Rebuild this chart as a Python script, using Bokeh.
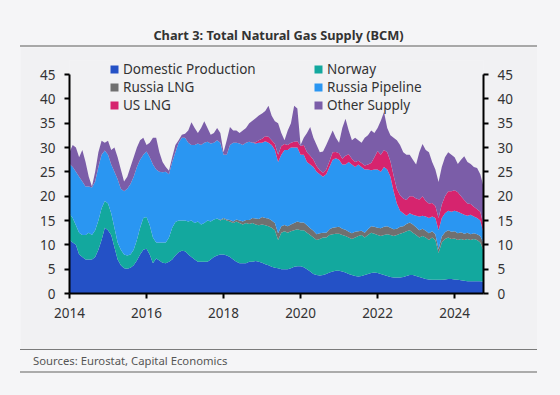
import pandas as pd
from bokeh.plotting import figure
from bokeh.models import (ColumnDataSource, Range1d, LinearAxis, FixedTicker,
                          Legend, LegendItem, Div, Spacer)
from bokeh.layouts import row, column
from bokeh.embed import file_html
from bokeh.resources import INLINE

# ---------------- data (monthly, BCM), Jan 2014 .. Oct 2024 ----------------
domestic = [
    11, 10.5, 10, 8, 7.5, 7, 7, 7, 7.5, 9, 11, 13.5,            # 2014
    13, 12, 9.5, 7, 5.8, 5.2, 5.1, 5.3, 5.8, 6.8, 8, 9,         # 2015
    9.2, 8, 6.2, 7.2, 6.8, 6.3, 6.2, 6.5, 7, 7.8, 8.5, 8.8,     # 2016
    8.7, 8, 7.5, 7, 6.5, 6.5, 6.5, 6.5, 7, 7.5, 7.8, 8,         # 2017
    8, 7.8, 7.5, 7, 6.5, 6.2, 6.2, 6.2, 6.5, 6.5, 6.7, 6.5,     # 2018
    6.3, 6, 5.8, 5.5, 5.3, 5.2, 5, 5, 5, 5.2, 5.5, 5.6,         # 2019
    5.6, 5.4, 5, 4.5, 4, 3.8, 3.7, 3.8, 4, 4.3, 4.5, 4.7,       # 2020
    4.7, 4.5, 4.3, 4, 3.8, 3.6, 3.5, 3.6, 3.8, 4, 4.2, 4.3,     # 2021
    4.2, 4, 3.8, 3.6, 3.4, 3.3, 3.3, 3.3, 3.4, 3.6, 3.8, 3.8,   # 2022
    3.6, 3.4, 3.2, 3, 2.9, 2.8, 2.8, 2.8, 2.8, 2.9, 3, 3,       # 2023
    2.9, 2.8, 2.7, 2.6, 2.5, 2.5, 2.5, 2.5, 2.5, 2.4,           # 2024
]
norway = [
    5.4, 5.0, 4.0, 4.5, 4.5, 5.0, 5.5, 5.0, 5.5, 6.0, 6.5, 5.5,
    5.5, 4.5, 4.0, 3.5, 3.2, 2.8, 2.7, 2.7, 3.2, 4.2, 5.5, 6.5,
    6.5, 6.0, 5.3, 3.3, 3.7, 4.2, 4.3, 5.0, 6.5, 6.9, 6.5, 6.2,
    6.3, 6.8, 7.5, 7.5, 8.3, 7.7, 8.0, 8.5, 7.8, 7.7, 7.6, 7.0,
    7.3, 7.2, 7.3, 7.5, 8.3, 8.3, 8.0, 8.3, 7.8, 8.0, 7.5, 7.5,
    7.9, 8.0, 8.0, 8.0, 7.7, 5.8, 7.5, 7.8, 7.5, 7.6, 7.5, 7.6,
    7.4, 7.6, 7.5, 7.5, 7.5, 7.2, 7.5, 7.7, 7.5, 7.7, 7.7, 7.6,
    7.6, 7.5, 7.5, 7.5, 7.4, 7.9, 8.3, 8.4, 7.7, 8.0, 8.3, 8.0,
    7.8, 7.8, 8.2, 8.6, 8.6, 8.5, 8.7, 9.0, 9.1, 9.2, 9.2, 8.7,
    8.4, 8.1, 8.6, 8.5, 8.1, 8.7, 8.2, 5.5, 7.7, 8.3, 8.5, 8.2,
    8.4, 8.2, 8.5, 8.4, 8.7, 8.5, 8.7, 8.5, 8.0, 6.4,
]
russia_lng = [
    0, 0, 0, 0, 0, 0, 0, 0, 0, 0, 0, 0,
    0, 0, 0, 0, 0, 0, 0, 0, 0, 0, 0, 0,
    0, 0, 0, 0, 0, 0, 0, 0, 0, 0, 0, 0,
    0, 0, 0, 0, 0, 0, 0, 0, 0, 0, 0, 0.1,
    0.2, 0.2, 0.3, 0.3, 0.4, 0.5, 0.6, 0.6, 0.8, 1.0, 1.2, 1.3,
    1.5, 1.5, 1.6, 1.5, 1.5, 1.4, 1.3, 1.3, 1.3, 1.4, 1.5, 1.6,
    1.6, 1.6, 1.5, 1.4, 1.4, 1.2, 1.2, 1.0, 1.0, 1.2, 1.3, 1.3,
    1.4, 1.3, 1.3, 1.2, 1.2, 1.2, 1.0, 0.9, 1.0, 1.2, 1.3, 1.4,
    1.5, 1.6, 1.7, 1.6, 1.5, 1.4, 1.3, 1.4, 1.3, 1.5, 1.6, 1.7,
    1.6, 1.5, 1.5, 1.4, 1.4, 1.3, 1.2, 0.8, 1.2, 1.4, 1.5, 1.5,
    1.5, 1.4, 1.4, 1.3, 1.3, 1.2, 1.2, 1.2, 1.3, 1.6,
]
russia_pipeline = [
    10.2, 10.5, 11.0, 11.5, 11.0, 10.0, 9.5, 9.8, 10.0, 11.0, 11.0, 10.4,
    10.0, 10.0, 11.5, 13.0, 12.5, 13.0, 13.7, 14.5, 15.0, 15.0, 14.0, 13.0,
    13.5, 14.0, 15.0, 15.0, 14.5, 14.4, 14.5, 13.0, 13.5, 14.3, 16.0, 17.0,
    17.0, 16.2, 15.5, 16.0, 16.0, 16.3, 16.5, 16.2, 16.0, 15.8, 16.1, 15.9,
    13.0, 13.3, 15.4, 16.2, 15.8, 15.8, 15.7, 15.9, 16.1, 15.5, 15.4, 15.7,
    15.3, 15.8, 15.6, 15.5, 15.0, 14.6, 14.7, 15.4, 15.7, 15.8, 15.5, 15.2,
    13.9, 13.9, 13.0, 13.1, 13.1, 12.8, 12.1, 11.5, 12.0, 12.8, 14.0, 14.2,
    13.8, 13.2, 13.4, 14.3, 14.1, 13.3, 13.7, 13.1, 13.0, 12.3, 11.5, 11.8,
    12.0, 11.6, 12.3, 11.7, 10.5, 7.8, 5.2, 3.3, 2.7, 1.7, 1.9, 2.0,
    2.4, 2.8, 2.7, 2.9, 3.1, 3.0, 3.3, 3.9, 3.8, 3.9, 4.0, 4.1,
    4.2, 4.4, 3.9, 3.9, 3.5, 4.0, 3.4, 3.3, 3.2, 2.1,
]
us_lng = [
    0, 0, 0, 0, 0, 0, 0, 0, 0, 0, 0, 0,
    0, 0, 0, 0, 0, 0, 0, 0, 0, 0, 0, 0,
    0, 0, 0, 0, 0, 0, 0, 0, 0, 0, 0, 0,
    0, 0, 0, 0, 0, 0, 0, 0, 0, 0, 0, 0,
    0, 0, 0, 0, 0, 0, 0, 0, 0, 0, 0.3, 0.5,
    0.8, 1.0, 1.2, 1.0, 1.2, 1.5, 1.8, 1.2, 1.0, 1.0, 1.2, 1.3,
    1.8, 2.0, 2.0, 1.8, 1.5, 1.2, 0.8, 0.8, 1.0, 1.2, 1.5, 1.3,
    1.3, 1.2, 1.8, 1.6, 1.2, 1.0, 0.8, 0.8, 0.8, 1.0, 1.5, 2.5,
    3.8, 3.5, 3.5, 3.5, 3.2, 3.2, 3.0, 3.2, 3.0, 3.2, 3.5, 3.8,
    3.5, 3.5, 4.0, 3.2, 3.0, 2.8, 2.5, 2.5, 2.8, 3.5, 4.0, 4.2,
    4.2, 4.0, 3.5, 3.0, 2.5, 2.2, 2.0, 1.8, 1.8, 1.5,
]
other_supply = [
    2.4, 4.5, 5.0, 4.0, 6.5, 5.0, 2.0, 0.2, 2.0, 3.0, 2.9, 1.6,
    2.9, 3.0, 5.0, 4.5, 4.0, 2.0, 2.5, 3.5, 4.0, 4.0, 4.0, 3.5,
    1.3, 3.0, 5.5, 6.5, 4.0, 2.1, 1.0, 0.7, 1.0, 1.5, 0.5, 0.6,
    0.8, 2.5, 4.7, 3.5, 2.2, 3.5, 4.4, 2.8, 1.8, 2.0, 2.5, 2.0,
    0.5, 3.0, 3.7, 2.5, 2.5, 2.2, 3.0, 3.0, 3.8, 4.5, 4.9, 5.1,
    5.2, 5.2, 6.4, 5.0, 4.7, 6.5, 2.7, 0.8, 3.0, 4.0, 7.4, 6.7,
    0.2, 1.5, 4.0, 5.9, 4.5, 4.3, 3.7, 4.4, 5.0, 4.8, 4.5, 2.9,
    2.2, 6.3, 7.6, 4.9, 3.8, 5.0, 4.2, 4.2, 5.7, 6.0, 6.7, 5.0,
    4.7, 7.0, 7.8, 5.0, 5.3, 7.8, 10.0, 10.3, 9.5, 9.3, 8.5, 7.5,
    7.0, 9.7, 10.7, 10.5, 10.5, 8.4, 7.5, 7.4, 7.7, 8.0, 8.0, 7.5,
    6.8, 5.8, 7.5, 9.0, 8.5, 8.2, 8.2, 8.5, 7.7, 8.0,
]

series_names = ["Domestic Production", "Norway", "Russia LNG",
                "Russia Pipeline", "US LNG", "Other Supply"]
x_ticks = [2014, 2016, 2018, 2020, 2022, 2024]
y_ticks = [0, 5, 10, 15, 20, 25, 30, 35, 40, 45]
title_text = "Chart 3: Total Natural Gas Supply (BCM)"
source_text = "Sources: Eurostat, Capital Economics"

# ---------------- styling ----------------
COLORS = ["#2451C6", "#13A89E", "#707070", "#2A96F2", "#D6246E", "#7B5DA8"]
PAGE = "#F5F5F7"
PANEL = "#F1F1F3"
TXT = "#333333"
FONT = "Noto Sans"

months = pd.date_range("2014-01-01", periods=len(domestic), freq="MS")
xdec = [d.year + (d.month - 1) / 12 for d in months]

keys = ["dom", "nor", "rlng", "rpipe", "uslng", "oth"]
src = ColumnDataSource(dict(x=xdec, dom=domestic, nor=norway, rlng=russia_lng,
                            rpipe=russia_pipeline, uslng=us_lng, oth=other_supply))

PW = 517            # panel width
FIG_H = 302
FL, FT, FW, FH = 49, 13, 414, 233
YMAX = 45 * FH / 219.0   # axis 0..45 occupies the lower 219 px

p = figure(width=PW, height=FIG_H, output_backend="svg", toolbar_location=None,
           x_range=Range1d(2014, 2024.75), y_range=Range1d(0, YMAX),
           min_border_left=FL, min_border_right=PW - FL - FW,
           min_border_top=FT, min_border_bottom=FIG_H - FT - FH,
           background_fill_color=PANEL, border_fill_color=PANEL,
           outline_line_color=None)
p.grid.visible = False

rs = p.varea_stack(stackers=keys, x="x", color=COLORS, source=src)

right = LinearAxis()
p.add_layout(right, "right")
for ax in [p.yaxis[0], right]:
    ax.ticker = FixedTicker(ticks=y_ticks)
    ax.bounds = (0, 45)
p.xaxis[0].ticker = FixedTicker(ticks=x_ticks)
for ax in list(p.xaxis) + list(p.yaxis):
    ax.axis_line_color = "black"
    ax.axis_line_width = 2
    ax.major_tick_line_color = "black"
    ax.major_tick_line_width = 2
    ax.major_tick_out = 5
    ax.major_tick_in = 0
    ax.minor_tick_line_color = None
    ax.major_label_text_font = FONT
    ax.major_label_text_font_size = "13.5px"
    ax.major_label_text_color = TXT
    ax.major_label_standoff = 9


def make_legend(idx, vx):
    leg = Legend(items=[LegendItem(label=series_names[i], renderers=[rs[i]]) for i in idx],
                 location=(vx, 179.5), orientation="vertical",
                 glyph_width=10, glyph_height=10, label_standoff=4,
                 label_height=17, spacing=0, padding=0, margin=0,
                 background_fill_alpha=0, border_line_alpha=0,
                 label_text_font=FONT, label_text_font_size="13.5px",
                 label_text_color=TXT)
    p.add_layout(leg)


make_legend([0, 2, 4], 40)
make_legend([1, 3, 5], 244)

title_div = Div(
    text=('<div style="display:block;width:%dpx;padding-top:27px;line-height:16px;'
          'text-align:center;font-family:\'Noto Sans\';font-weight:bold;'
          'font-size:12.8px;color:#333333;">' % PW)
         + title_text + '</div>',
    width=PW, height=47,
    styles={"box-sizing": "border-box", "border-bottom": "2px solid #A8A8A8",
            "background-color": PAGE, "margin": "0", "padding": "0",
            "overflow": "hidden", "text-align": "center", "display": "block"})

source_div = Div(
    text=('<div style="padding-top:3px;padding-left:13px;line-height:16px;'
          'font-family:\'Noto Sans\';font-size:11.3px;color:#555555;">'
          + source_text + '</div>'),
    width=PW, height=24,
    styles={"box-sizing": "border-box", "border-top": "1px solid #7A7A7A",
            "border-bottom": "2px solid #ABABAB", "background-color": PAGE,
            "margin": "0", "padding": "0", "overflow": "hidden"})

layout = row(Spacer(width=20, height=10),
             column(title_div, p, source_div, spacing=0),
             spacing=0)

html = file_html(layout, INLINE)
html = html.replace("</head>",
                    "<style>html,body{background:%s !important;margin:0;}</style></head>" % PAGE, 1)
open("out.html", "w").write(html)
